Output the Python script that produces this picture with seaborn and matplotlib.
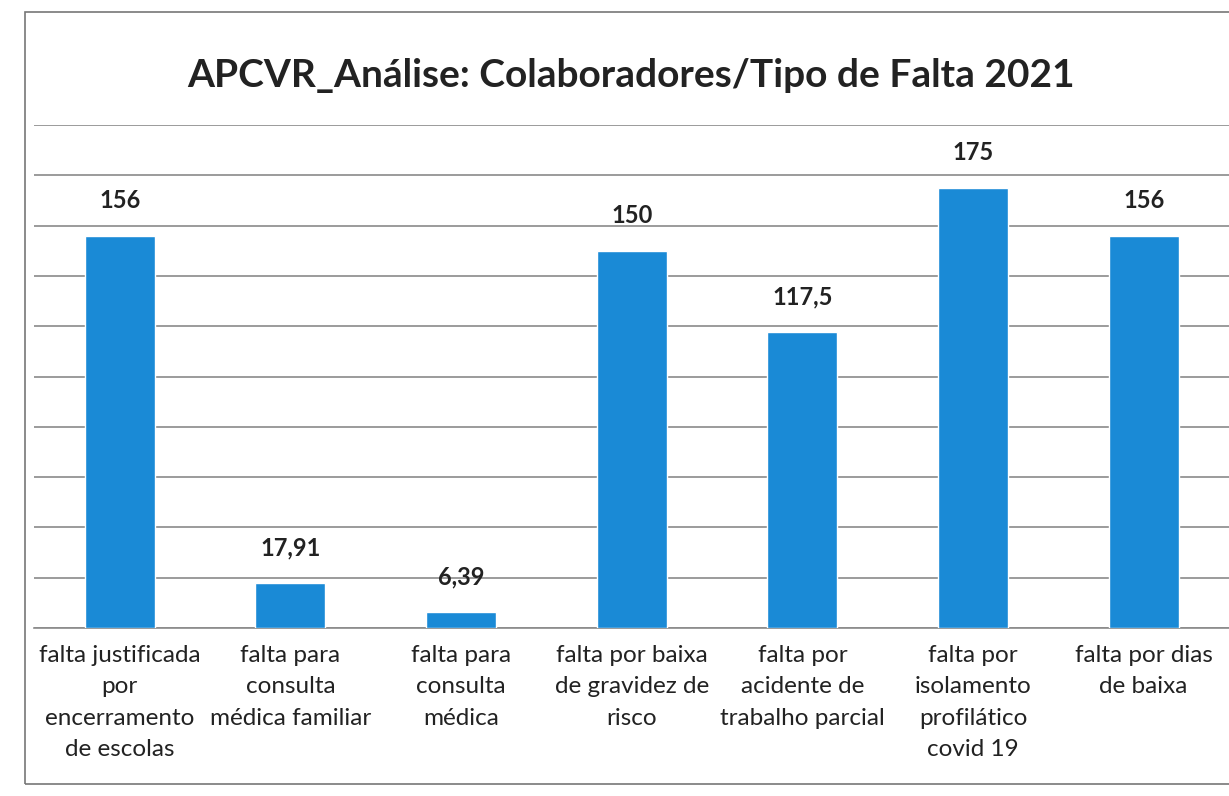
import pandas as pd
import seaborn as sns
import matplotlib.pyplot as plt
from matplotlib.patches import Rectangle

# dados
categorias = ["falta justificada\npor\nencerramento\nde escolas",
              "falta para\nconsulta\nmédica familiar",
              "falta para\nconsulta\nmédica",
              "falta por baixa\nde gravidez de\nrisco",
              "falta por\nacidente de\ntrabalho parcial",
              "falta por\nisolamento\nprofilático\ncovid 19",
              "falta por dias\nde baixa"]
valores = [156, 17.91, 6.39, 150, 117.5, 175, 156]
rotulos = ["156", "17,91", "6,39", "150", "117,5", "175", "156"]

df = pd.DataFrame({"tipo": categorias, "valor": valores})

sns.set_style("white")
plt.rcParams['font.family'] = ['Lato', 'DejaVu Sans']

fig = plt.figure(figsize=(12.29, 7.96), dpi=100)
ax = fig.add_axes([0.028, 0.211, 0.972, 0.632])

sns.barplot(data=df, x="tipo", y="valor", color="#1a8ad6", saturation=1,
            width=0.41, ax=ax, zorder=3)

ax.set_ylim(0, 200)
ax.set_yticks(range(0, 201, 20))
ax.yaxis.grid(True, color="#8a8a8a", linewidth=1.2, zorder=0)
ax.set_yticklabels([])
ax.tick_params(axis="y", length=0)
ax.set_xticks(range(len(categorias)))
ax.set_xticklabels(categorias, fontsize=17.5, color="#222222", linespacing=1.62)
ax.tick_params(axis="x", length=0, pad=12)
ax.set_xlabel("")
ax.set_ylabel("")
for s in ["top", "right", "left"]:
    ax.spines[s].set_visible(False)
ax.spines["bottom"].set_color("#8a8a8a")
ax.spines["bottom"].set_linewidth(1.2)

for i, (v, r) in enumerate(zip(valores, rotulos)):
    ax.annotate(r, (i, v), xytext=(0, 17), textcoords="offset points",
                ha="center", va="bottom", fontsize=17, fontweight="bold", color="#222222")

fig.text(0.513, 0.905, "APCVR_Análise: Colaboradores/Tipo de Falta 2021",
         ha="center", va="center", fontsize=28, fontweight="bold", color="#222222")

# moldura do gráfico
fig.patches.append(Rectangle((0.02, 0.015), 0.985, 0.97, transform=fig.transFigure,
                             fill=False, edgecolor="#777777", linewidth=1.2))

fig.savefig("out.png", dpi=100)
